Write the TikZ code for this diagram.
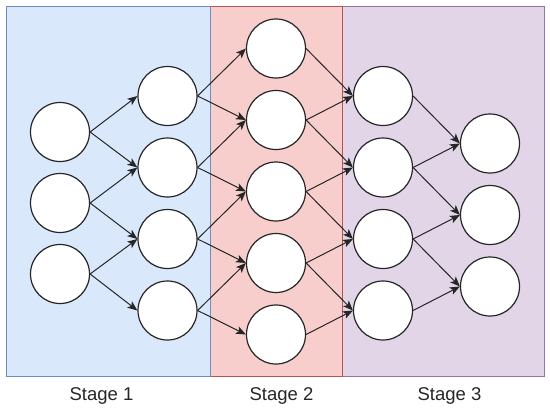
\documentclass[tikz,border=0pt]{standalone}
\usepackage{fontspec}
\setmainfont{Liberation Sans}
\usetikzlibrary{arrows.meta}

\definecolor{bluefill}{HTML}{DAE8FC}
\definecolor{blueline}{HTML}{6C8EBF}
\definecolor{redfill}{HTML}{F8CECC}
\definecolor{redline}{HTML}{B85450}
\definecolor{purplefill}{HTML}{E1D5E7}
\definecolor{purpleline}{HTML}{9673A6}

\begin{document}
\begin{tikzpicture}[x=1pt, y=-1pt,
    stage/.style={draw, rectangle, line width=1pt, minimum height=370.5pt, inner sep=0pt},
    neuron/.style={draw=black!85, circle, fill=white, line width=1.2pt, minimum size=59pt, inner sep=0pt},
    arr/.style={-{Stealth[length=10pt, width=8pt, inset=2.5pt]}, line width=1pt, black!85},
    lbl/.style={font=\fontsize{18.5}{22}\selectfont, text=black!85}
]
\useasboundingbox (0,0) rectangle (550,410);

% Stage boxes (drawn back to front)
\node[stage, fill=purplefill, draw=purpleline, minimum width=202.5pt] (s3) at (443.25,191.25) {};
\node[stage, fill=redfill, draw=redline, minimum width=132pt] (s2) at (276,191.25) {};
\node[stage, fill=bluefill, draw=blueline, minimum width=203.5pt] (s1) at (108.25,191.25) {};

% Stage labels
\node[lbl] (t1) at (101.5,396) {Stage 1};
\node[lbl] (t2) at (281.5,396) {Stage 2};
\node[lbl] (t3) at (449.5,396) {Stage 3};

% Layer 1
\node[neuron] (a1) at (60,132) {};
\node[neuron] (a2) at (60,203) {};
\node[neuron] (a3) at (60,274) {};

% Layer 2
\node[neuron] (b1) at (167.5,96) {};
\node[neuron] (b2) at (167.5,167.5) {};
\node[neuron] (b3) at (167.5,239) {};
\node[neuron] (b4) at (167.5,310.5) {};

% Layer 3
\node[neuron] (c1) at (276,48.5) {};
\node[neuron] (c2) at (276,120) {};
\node[neuron] (c3) at (276,191.5) {};
\node[neuron] (c4) at (276,263) {};
\node[neuron] (c5) at (276,334.5) {};

% Layer 4
\node[neuron] (d1) at (383,96) {};
\node[neuron] (d2) at (383,167.5) {};
\node[neuron] (d3) at (383,239) {};
\node[neuron] (d4) at (383,310.5) {};

% Layer 5
\node[neuron] (e1) at (490,143.5) {};
\node[neuron] (e2) at (490,215) {};
\node[neuron] (e3) at (490,286.5) {};

% Layer 1 -> Layer 2
\draw[arr] (a1.east) -- (b1.west);
\draw[arr] (a1.east) -- (b2.west);
\draw[arr] (a2.east) -- (b2.west);
\draw[arr] (a2.east) -- (b3.west);
\draw[arr] (a3.east) -- (b3.west);
\draw[arr] (a3.east) -- (b4.west);

% Layer 2 -> Layer 3
\draw[arr] (b1.east) -- (c1.west);
\draw[arr] (b1.east) -- (c2.west);
\draw[arr] (b2.east) -- (c2.west);
\draw[arr] (b2.east) -- (c3.west);
\draw[arr] (b3.east) -- (c3.west);
\draw[arr] (b3.east) -- (c4.west);
\draw[arr] (b4.east) -- (c4.west);
\draw[arr] (b4.east) -- (c5.west);

% Layer 3 -> Layer 4
\draw[arr] (c1.east) -- (d1.west);
\draw[arr] (c2.east) -- (d1.west);
\draw[arr] (c2.east) -- (d2.west);
\draw[arr] (c3.east) -- (d2.west);
\draw[arr] (c3.east) -- (d3.west);
\draw[arr] (c4.east) -- (d3.west);
\draw[arr] (c4.east) -- (d4.west);
\draw[arr] (c5.east) -- (d4.west);

% Layer 4 -> Layer 5
\draw[arr] (d1.east) -- (e1.west);
\draw[arr] (d2.east) -- (e1.west);
\draw[arr] (d2.east) -- (e2.west);
\draw[arr] (d3.east) -- (e2.west);
\draw[arr] (d3.east) -- (e3.west);
\draw[arr] (d4.east) -- (e3.west);

\end{tikzpicture}
\end{document}
